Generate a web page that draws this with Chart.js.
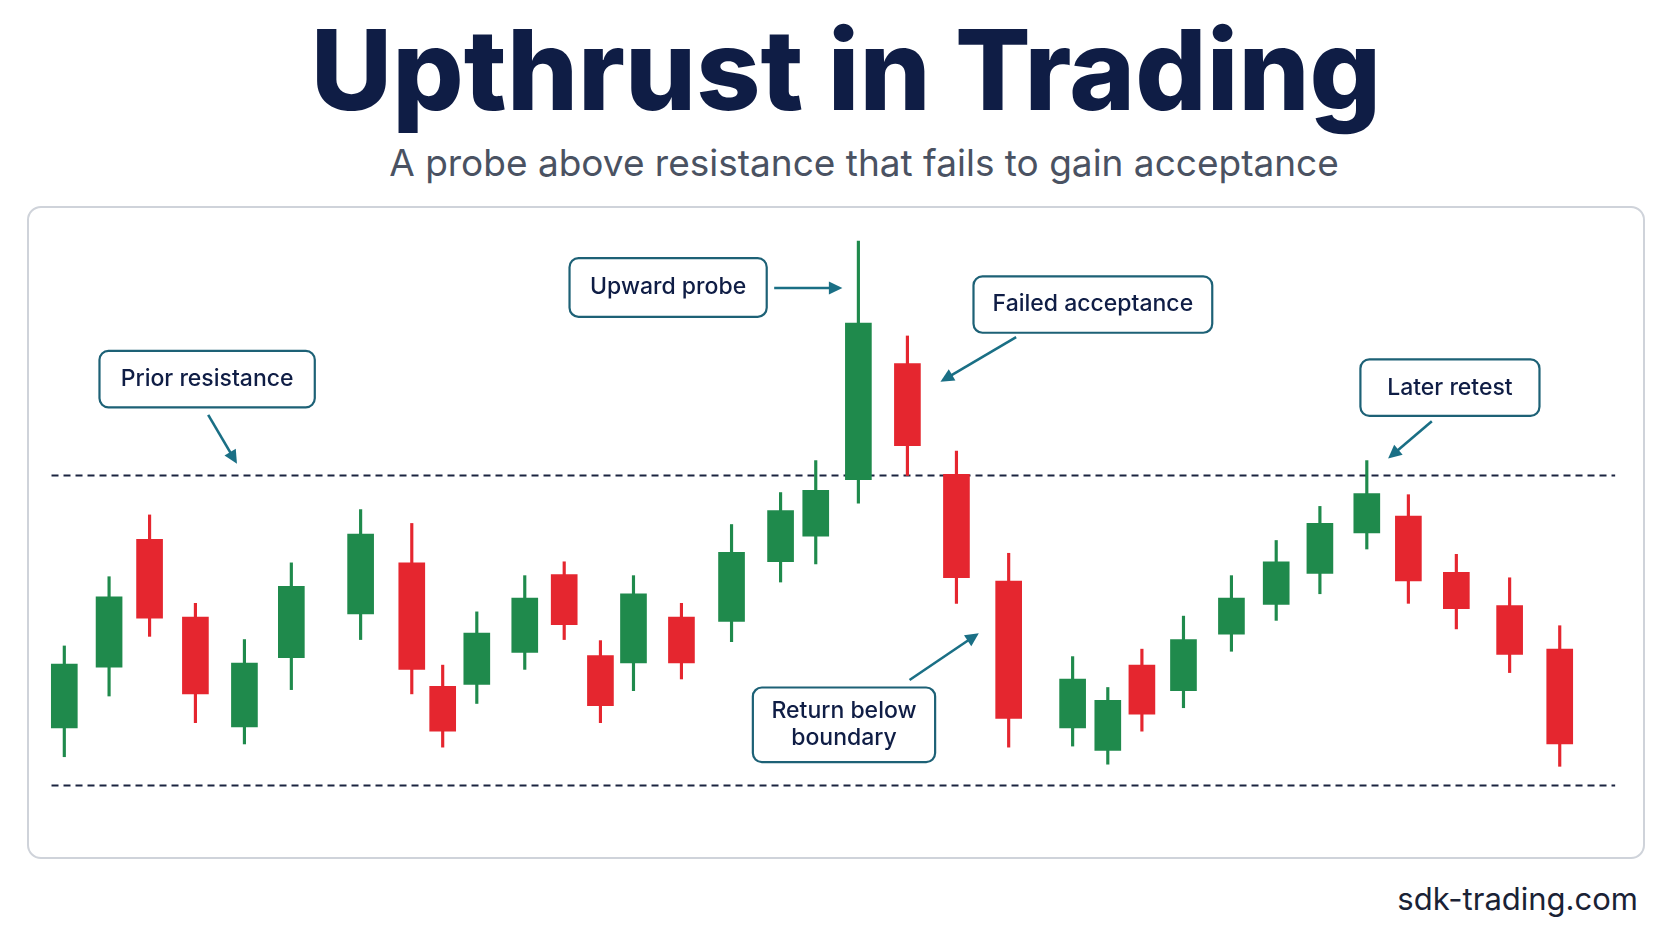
<!DOCTYPE html>
<html><head><meta charset="utf-8">
<script src="https://cdn.jsdelivr.net/npm/chart.js@4"></script>
<style>
html,body{margin:0;padding:0;background:#fff;width:1672px;height:941px;overflow:hidden;font-family:Inter,"Noto Sans",sans-serif}
#t{position:absolute;left:10px;width:1672px;top:8px;text-align:center;font-size:112px;font-weight:800;color:#0f1d45;letter-spacing:0px;line-height:1.1}
#s{position:absolute;left:28px;width:1672px;top:140px;text-align:center;font-size:37px;color:#4a5262}
#box{position:absolute;left:27px;top:206px;width:1618px;height:653px;border:2px solid #cfd3da;border-radius:14px;box-sizing:border-box}
#w{position:absolute;right:34px;top:880px;font-size:31px;color:#1a2235}
#c{position:absolute;left:27px;top:206px}
</style></head><body>
<div id="t">Upthrust in Trading</div>
<div id="s">A probe above resistance that fails to gain acceptance</div>
<div id="box"></div>
<canvas id="c" width="1618" height="653"></canvas>
<div id="w">sdk-trading.com</div>
<script>
// time positions and prices (price = 800 - reference pixel row)
const times=[60,102,140,183,229,273,338,386,415,447,492,529,563,594,639,686,732,765,805,851,897,946,1006,1039,1071,1110,1155,1197,1238,1282,1321,1366,1416,1463];
const opens=[117,174,294,221,118,183,224,272,156,158,188,261,185,178,221,217,273,297,350,459,355,255,117,96,176,152,205,233,262,300,316,263,232,191];
const closes=[177,240,220,149,178,250,299,172,114,206,239,214,138,243,178,282,321,340,497,382,258,126,163,143,130,200,239,273,309,337,255,229,186,102];
const highs=[194,259,317,234,200,272,322,309,176,226,260,273,199,260,234,308,338,368,574,485,377,281,184,155,191,222,260,293,325,368,336,280,258,213];
const lows=[90,147,203,122,102,153,200,149,99,140,172,200,122,152,163,198,254,271,328,354,234,99,100,83,114,136,189,218,243,285,234,210,169,81];
const resistance=354, support=63;
const lineStart=48, lineEnd=1515;

const up=opens.map((o,i)=>closes[i]>=o);
const green='#1f8a4c', red='#e5262f';
const cols=up.map(u=>u?green:red);
const notes=[
 {lines:['Upward probe'],x1:534,x2:719,y1:242,y2:297,a:[726,270,790,270]},
 {lines:['Failed acceptance'],x1:913,x2:1137,y1:259,y2:312,a:[953,316,882,358]},
 {lines:['Prior resistance'],x1:93,x2:295,y1:329,y2:382,a:[195,389,222,435]},
 {lines:['Later retest'],x1:1276,x2:1444,y1:337,y2:390,a:[1343,395,1302,430]},
 {lines:['Return below','boundary'],x1:706,x2:877,y1:645,y2:715,a:[853,638,918,594]}
];
const annot={id:'annot',afterDatasetsDraw(ch){
 const c=ch.ctx,xs=ch.scales.x,ys=ch.scales.y;
 const X=v=>xs.getPixelForValue(v),Y=v=>ys.getPixelForValue(800-v);
 c.save();
 notes.forEach(n=>{
  const x=X(n.x1),y=Y(n.y1),w=X(n.x2)-x,h=Y(n.y2)-y;
  c.fillStyle='#fff';c.strokeStyle='#1d6176';c.lineWidth=2.2;
  c.beginPath();c.roundRect(x,y,w,h,9);c.fill();c.stroke();
  c.fillStyle='#0f1d45';c.font='500 23px Inter, "Noto Sans", sans-serif';c.textAlign='center';c.textBaseline='middle';
  const L=n.lines.length;
  n.lines.forEach((t,i)=>c.fillText(t,x+w/2,y+h/2+(i-(L-1)/2)*27));
  const [ax,ay,bx,by]=n.a;const x0=X(ax),y0=Y(ay),x1=X(bx),y1=Y(by);
  c.strokeStyle='#1a6f85';c.fillStyle='#1a6f85';c.lineWidth=2.6;
  const ang=Math.atan2(y1-y0,x1-x0);
  c.beginPath();c.moveTo(x0,y0);c.lineTo(x1-10*Math.cos(ang),y1-10*Math.sin(ang));c.stroke();
  c.beginPath();c.moveTo(x1,y1);c.lineTo(x1-15*Math.cos(ang-0.45),y1-15*Math.sin(ang-0.45));c.lineTo(x1-15*Math.cos(ang+0.45),y1-15*Math.sin(ang+0.45));c.closePath();c.fill();
 });
 c.restore();
}};
new Chart(document.getElementById('c'),{
 data:{datasets:[
  {type:'line',data:[{x:lineStart,y:resistance},{x:lineEnd,y:resistance}],borderColor:'#1b2440',borderWidth:2,borderDash:[7,5],pointRadius:0,order:3},
  {type:'line',data:[{x:lineStart,y:support},{x:lineEnd,y:support}],borderColor:'#1b2440',borderWidth:2,borderDash:[7,5],pointRadius:0,order:3},
  {type:'bar',data:times.map((t,i)=>({x:t,y:[lows[i],highs[i]]})),backgroundColor:cols,barThickness:2.5,grouped:false,order:2},
  {type:'bar',data:times.map((t,i)=>({x:t,y:[opens[i],closes[i]]})),backgroundColor:cols,barThickness:26,grouped:false,order:1}
 ]},
 options:{responsive:false,animation:false,layout:{padding:0},
  plugins:{legend:{display:false},tooltip:{enabled:false}},
  scales:{x:{type:'linear',offset:false,min:25,max:1543,display:false},y:{min:-6,max:607,display:false}}},
 plugins:[annot]
});
</script></body></html>
